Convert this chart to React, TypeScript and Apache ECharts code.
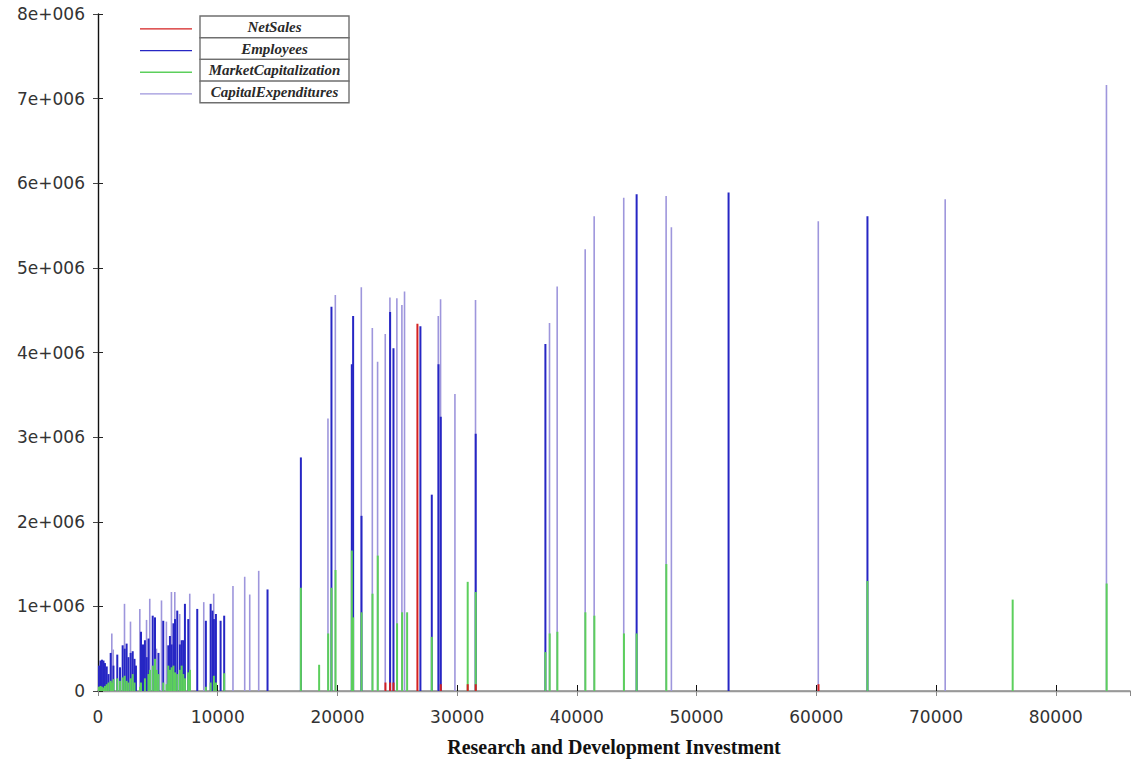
import React, { useEffect, useRef } from "react";
import * as echarts from "echarts";

// R&D investment (x) for each spike
const rdInvestment = [
  80, 210, 330, 460, 580, 730, 880, 1060, 1170, 1290,
  1610, 1840, 2060, 2230, 2390, 2540, 2730, 2900, 3050, 3170,
  3510, 3590, 3760, 3920, 4070, 4220, 4340, 4570, 4760, 4900,
  5050, 5320, 5450, 5730, 5870, 6010, 6150, 6300, 6430, 6620,
  6840, 6990, 7120, 7260, 7540, 7680, 8290, 8850, 9010, 9410,
  9560, 9680, 9850, 10240, 10540, 11290, 12270, 12690, 13440, 14160,
  16945, 18470, 19225, 19500, 19840, 21200, 21310, 22010, 22930, 23370,
  24010, 24400, 24680, 24980, 25400, 25620, 25820, 26680, 26930, 27880,
  28440, 28630, 29830, 30880, 31550, 37370, 37730, 38370, 40710, 41460,
  43930, 44990, 47470, 47910, 52670, 60180, 64270, 70780, 76400, 84250,
];

const netSales = [
  0, 0, 0, 0, 0, 0, 0, 0, 0, 0,
  0, 0, 0, 0, 0, 0, 0, 0, 0, 0,
  0, 0, 0, 0, 0, 0, 0, 0, 0, 0,
  0, 0, 0, 0, 0, 0, 0, 0, 0, 0,
  0, 0, 0, 0, 0, 0, 0, 0, 0, 0,
  0, 0, 0, 0, 0, 0, 0, 0, 0, 0,
  0, 0, 0, 0, 0, 0, 0, 0, 0, 0,
  0.1e6, 0.1e6, 0.1e6, 0, 0, 0, 0, 4.34e6, 0, 0,
  0, 0.08e6, 0, 0.08e6, 0.08e6, 0, 0, 0, 0, 0,
  0, 0, 0, 0, 0, 0.08e6, 0, 0, 0, 0,
];

const employees = [
  0.30e6, 0.36e6, 0.37e6, 0.36e6, 0.33e6, 0.29e6, 0.20e6, 0.45e6, 0, 0.30e6,
  0.43e6, 0.28e6, 0.54e6, 0.50e6, 0.56e6, 0.40e6, 0.45e6, 0.47e6, 0.38e6, 0.30e6,
  0, 0.70e6, 0.55e6, 0.60e6, 0.40e6, 0.62e6, 0, 0.89e6, 0.87e6, 0,
  0.45e6, 0, 0.83e6, 0, 0.54e6, 0.65e6, 0.55e6, 0.80e6, 0.85e6, 0.95e6,
  0.55e6, 0.60e6, 0.60e6, 1.03e6, 0.85e6, 0, 0.97e6, 0, 0.83e6, 1.03e6,
  0.95e6, 0.85e6, 0.91e6, 0.83e6, 0.89e6, 0, 0, 0, 0, 1.20e6,
  2.76e6, 0, 0, 4.54e6, 0, 3.86e6, 4.43e6, 2.07e6, 0, 0,
  0, 4.48e6, 4.05e6, 0, 0, 0, 0, 0, 4.31e6, 2.32e6,
  3.86e6, 3.24e6, 0, 0, 3.04e6, 4.10e6, 0, 0, 0, 0,
  0, 5.87e6, 0, 0, 5.89e6, 0, 5.61e6, 0, 0, 0,
];

const marketCapitalization = [
  0.05e6, 0.06e6, 0.05e6, 0.04e6, 0.06e6, 0.08e6, 0.10e6, 0.12e6, 0.10e6, 0.14e6,
  0.15e6, 0.12e6, 0.16e6, 0.18e6, 0.12e6, 0.10e6, 0.15e6, 0.20e6, 0.10e6, 0,
  0.05e6, 0.10e6, 0, 0.15e6, 0, 0.20e6, 0.25e6, 0.30e6, 0.38e6, 0.25e6,
  0.20e6, 0, 0.10e6, 0.08e6, 0.30e6, 0.25e6, 0.28e6, 0.30e6, 0.22e6, 0.20e6,
  0.25e6, 0.30e6, 0.20e6, 0.15e6, 0.22e6, 0.25e6, 0, 0, 0.05e6, 0.10e6,
  0, 0.18e6, 0.10e6, 0, 0.21e6, 0, 0, 0, 0, 0,
  1.22e6, 0.31e6, 0.68e6, 1.22e6, 1.43e6, 1.66e6, 0.87e6, 0.93e6, 1.15e6, 1.6e6,
  0, 0, 0, 0.80e6, 0.93e6, 0, 0.93e6, 0, 0, 0.64e6,
  0, 0, 0, 1.29e6, 1.17e6, 0.46e6, 0.68e6, 0.70e6, 0.93e6, 0.89e6,
  0.68e6, 0.68e6, 1.50e6, 0, 0, 0, 1.30e6, 0, 1.08e6, 1.27e6,
];

const capitalExpenditures = [
  0, 0, 0, 0, 0, 0, 0, 0, 0.68e6, 0.49e6,
  0, 0, 0, 1.03e6, 0, 0, 0.82e6, 0, 0, 0,
  0.97e6, 0, 0, 0, 0.84e6, 0, 1.09e6, 0, 0, 0.50e6,
  0, 1.07e6, 0, 0.82e6, 0, 0, 1.17e6, 0, 1.17e6, 0,
  0.91e6, 0, 0, 0, 0, 1.15e6, 0, 1.05e6, 0, 0,
  0, 1.15e6, 0, 0, 0, 1.24e6, 1.35e6, 1.14e6, 1.42e6, 0,
  0, 0, 3.22e6, 0, 4.68e6, 0, 0, 4.77e6, 4.29e6, 3.89e6,
  4.22e6, 4.65e6, 0, 4.64e6, 4.56e6, 4.72e6, 0, 0, 0, 0,
  4.43e6, 4.63e6, 3.51e6, 0, 4.62e6, 0, 4.35e6, 4.78e6, 5.22e6, 5.61e6,
  5.83e6, 0, 5.85e6, 5.48e6, 0, 5.55e6, 0, 5.81e6, 0, 7.16e6,
];

const seriesNames = ["NetSales", "Employees", "MarketCapitalization", "CapitalExpenditures"];
const seriesColors = ["#d42121", "#2626c4", "#5ccf5c", "#9e96dc"];
const xTicks = [0, 10000, 20000, 30000, 40000, 50000, 60000, 70000, 80000];
const yTicks = [0, 1e6, 2e6, 3e6, 4e6, 5e6, 6e6, 7e6, 8e6];

const toPoints = (vals: number[]) =>
  rdInvestment.map((x, i) => [x, vals[i]]).filter((p) => p[1] > 0);

export default function App() {
  const ref = useRef<HTMLDivElement>(null);
  useEffect(() => {
    if (!ref.current) return;
    const chart = echarts.init(ref.current, null, { renderer: "svg" });
    const valueSets = [netSales, employees, marketCapitalization, capitalExpenditures];
    const widths = [2, 2, 2, 1.6];
    // draw order: capex bottom, then employees, market cap, net sales on top
    const order = [3, 1, 2, 0];
    const series = order.map((k) => ({
      name: seriesNames[k],
      type: "bar",
      xAxisIndex: 0,
      yAxisIndex: 0,
      barWidth: widths[k],
      barGap: "-100%",
      silent: true,
      itemStyle: { color: seriesColors[k] },
      data: toPoints(valueSets[k]),
    }));

    const legendTop = 16;
    const rowH = 21.7;
    const graphic: any[] = [];
    seriesNames.forEach((name, i) => {
      const y0 = legendTop + i * rowH;
      graphic.push({
        type: "line",
        shape: { x1: 140, y1: y0 + rowH / 2 + 2, x2: 192, y2: y0 + rowH / 2 + 2 },
        style: { stroke: seriesColors[i], lineWidth: 1.3 },
        silent: true,
      });
      graphic.push({
        type: "rect",
        shape: { x: 200, y: y0, width: 149, height: rowH },
        style: { fill: "#ffffff", stroke: "#6f6f6f", lineWidth: 1.4 },
        silent: true,
      });
      graphic.push({
        type: "text",
        x: 274.5,
        y: y0 + rowH / 2,
        style: {
          text: name,
          align: "center",
          verticalAlign: "middle",
          fontFamily: "Liberation Serif",
          fontStyle: "italic",
          fontWeight: "bold",
          fontSize: 15,
          fill: "#2a2a2a",
        },
        silent: true,
      });
    });

    const axisFont = { fontFamily: "DejaVu Sans", fontSize: 17, color: "#333" };
    chart.setOption({
      animation: false,
      backgroundColor: "#ffffff",
      grid: { left: 98, right: 1, top: 14, bottom: 62 },
      xAxis: [
        {
          type: "value",
          position: "bottom",
          min: 0,
          max: 86200,
          interval: 10000,
          axisLine: { show: true, lineStyle: { color: "#8c8c8c", width: 1.6 } },
          axisTick: { show: true, inside: true, length: 6, lineStyle: { color: "#111" } },
          axisLabel: {
            ...axisFont,
            margin: 17,
            showMaxLabel: false,
            formatter: (v: number) => (xTicks.includes(v) ? String(v) : ""),
          },
          splitLine: { show: false },
          name: "Research and Development Investment",
          nameLocation: "middle",
          nameGap: 46,
          nameTextStyle: {
            fontFamily: "Liberation Serif",
            fontWeight: "bold",
            fontSize: 20,
            color: "#111",
          },
        },
        {
          type: "value",
          position: "top",
          min: 0,
          max: 86200,
          interval: 10000,
          axisLine: { show: true, lineStyle: { color: "#999", width: 1.4 } },
          axisTick: { show: true, inside: true, length: 5, lineStyle: { color: "#888" } },
          axisLabel: { show: false },
          splitLine: { show: false },
        },
      ],
      yAxis: [
        {
          type: "value",
          position: "left",
          min: 0,
          max: 8e6,
          interval: 1e6,
          axisLine: { show: true, lineStyle: { color: "#111", width: 1.4 } },
          axisTick: { show: true, inside: true, length: 5, lineStyle: { color: "#222" } },
          axisLabel: {
            ...axisFont,
            margin: 13,
            formatter: (v: number) =>
              yTicks.includes(v) ? (v === 0 ? "0" : `${v / 1e6}e+006`) : "",
          },
          splitLine: { show: false },
        },
        {
          type: "value",
          position: "right",
          min: 0,
          max: 8e6,
          interval: 1e6,
          axisLine: { show: false },
          axisTick: { show: true, inside: true, length: 5, lineStyle: { color: "#444" } },
          axisLabel: { show: false },
          splitLine: { show: false },
        },
      ],
      series,
      graphic,
    });
    return () => chart.dispose();
  }, []);
  return (
    <div
      ref={ref}
      style={{ position: "fixed", left: 0, top: 0, width: 1131, height: 762, background: "#fff" }}
    />
  );
}
